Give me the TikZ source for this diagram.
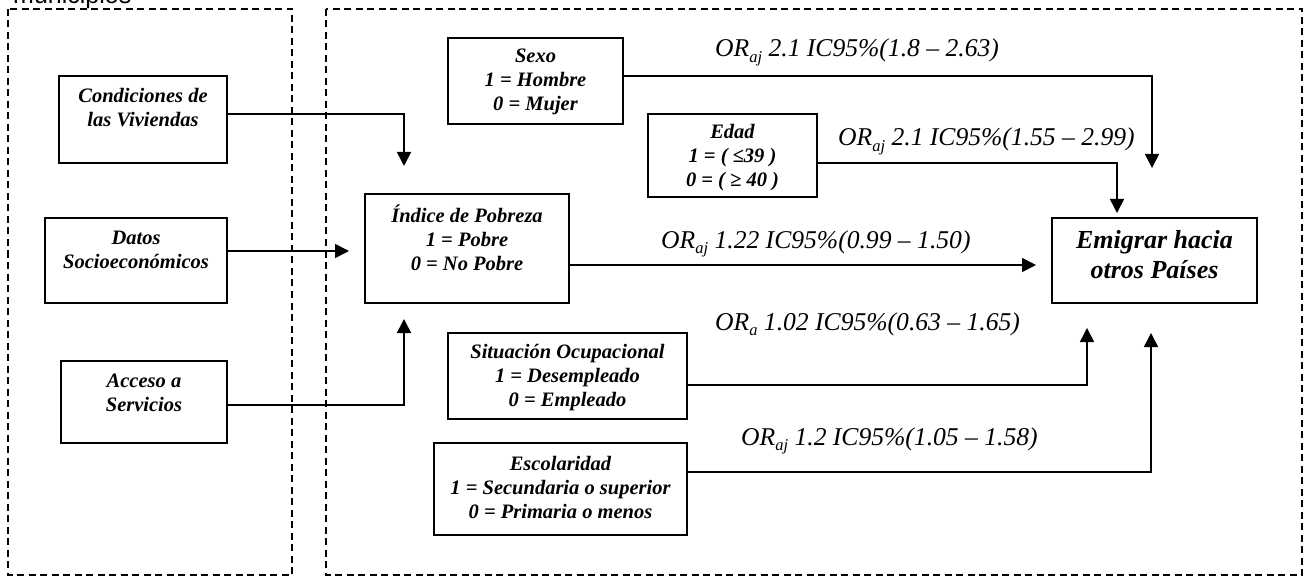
\documentclass[tikz,border=0pt]{standalone}
\usepackage{fontspec}
\setmainfont{Liberation Serif}
\newfontfamily\arialfont{Liberation Sans}
\usetikzlibrary{arrows.meta}
\tikzset{
  box/.style={draw, line width=1.7pt, rectangle, inner sep=0pt},
  boxtext/.style={inner sep=0pt, align=center, font=\fontsize{20.5}{24}\selectfont\bfseries\itshape},
  bigtext/.style={inner sep=0pt, align=center, font=\fontsize{26}{30}\selectfont\bfseries\itshape},
  lbl/.style={inner sep=0pt, anchor=base west, font=\fontsize{25.6}{28}\selectfont\itshape},
  arr/.style={line width=1.6pt, -{Triangle[width=14pt,length=14pt]}},
  zone/.style={line width=1.7pt, dash pattern=on 7pt off 4.5pt},
}
\newcommand{\orsub}[1]{\raisebox{-0.2em}{\fontsize{16.5}{16.5}\selectfont #1}}
\begin{document}
\begin{tikzpicture}[x=1pt,y=-1pt]
\useasboundingbox (0,0) rectangle (1308,577);
% zones
\draw[zone] (8,9) rectangle (292,575);
\draw[zone] (326,9) rectangle (1302,575);
\node[inner sep=0pt, anchor=base west, font=\arialfont\fontsize{25}{25}\selectfont] (mun) at (13,4) {municipios};
% left boxes
\node[box, minimum width=168pt, minimum height=87pt] (cond) at (143,119.5) {};
\node[boxtext] (condt) at (143,108) {Condiciones de\\las Viviendas};
\node[box, minimum width=182pt, minimum height=85pt] (datos) at (136,260.5) {};
\node[boxtext] (datost) at (136,250) {Datos\\Socioeconómicos};
\node[box, minimum width=166pt, minimum height=82pt] (acceso) at (144,402) {};
\node[boxtext] (accesot) at (144,393) {Acceso a\\Servicios};
% middle
\node[box, minimum width=204pt, minimum height=109pt] (indice) at (467,248.5) {};
\node[boxtext] (indicet) at (467,238) {Índice de Pobreza\\1 = Pobre\\0 = No Pobre};
\node[box, minimum width=175pt, minimum height=86pt] (sexo) at (535.5,81) {};
\node[boxtext] (sexot) at (535.5,82) {Sexo\\1 = Hombre\\0 = Mujer};
\node[box, minimum width=169pt, minimum height=83pt] (edad) at (732.5,155.5) {};
\node[boxtext] (edadt) at (732.5,158) {Edad\\1 = ( ≤39 )\\0 = ( ≥ 40 )};
\node[box, minimum width=239pt, minimum height=86pt] (sit) at (567.5,376) {};
\node[boxtext] (sitt) at (567.5,378) {Situación Ocupacional\\1 = Desempleado\\0 = Empleado};
\node[box, minimum width=253pt, minimum height=92pt] (esc) at (560.5,489) {};
\node[boxtext] (esct) at (560.5,487) {Escolaridad\\1 = Secundaria o superior\\0 = Primaria o menos};
\node[box, minimum width=205pt, minimum height=85pt] (emig) at (1154.5,260.5) {};
\node[bigtext] (emigt) at (1154.5,255) {Emigrar hacia\\otros Países};
% arrow tips
\coordinate (t1) at (404,166);
\coordinate (t2) at (349,251);
\coordinate (t3) at (404,319);
\coordinate (t4) at (1152,168);
\coordinate (t5) at (1117,213);
\coordinate (t6) at (1036,265);
\coordinate (t7) at (1087,328);
\coordinate (t8) at (1151,333);
% connectors
\draw[arr] ([yshift=5.5pt]cond.east) -| (t1);
\draw[arr] (datos.east |- t2) -- (t2);
\draw[arr] ([yshift=-3pt]acceso.east) -| (t3);
\draw[arr] ([yshift=5pt]sexo.east) -| (t4);
\draw[arr] ([yshift=-7.5pt]edad.east) -| (t5);
\draw[arr] (indice.east |- t6) -- (t6);
\draw[arr] ([yshift=-9pt]sit.east) -| (t7);
\draw[arr] ([yshift=17pt]esc.east) -| (t8);
% labels
\node[lbl] (l1) at (715,57) {OR\orsub{aj} 2.1 IC95\%(1.8 – 2.63)};
\node[lbl] (l2) at (838,146) {OR\orsub{aj} 2.1 IC95\%(1.55 – 2.99)};
\node[lbl] (l3) at (661,248) {OR\orsub{aj} 1.22 IC95\%(0.99 – 1.50)};
\node[lbl] (l4) at (715,330) {OR\orsub{a} 1.02 IC95\%(0.63 – 1.65)};
\node[lbl] (l5) at (741,445) {OR\orsub{aj} 1.2 IC95\%(1.05 – 1.58)};
\end{tikzpicture}
\end{document}
